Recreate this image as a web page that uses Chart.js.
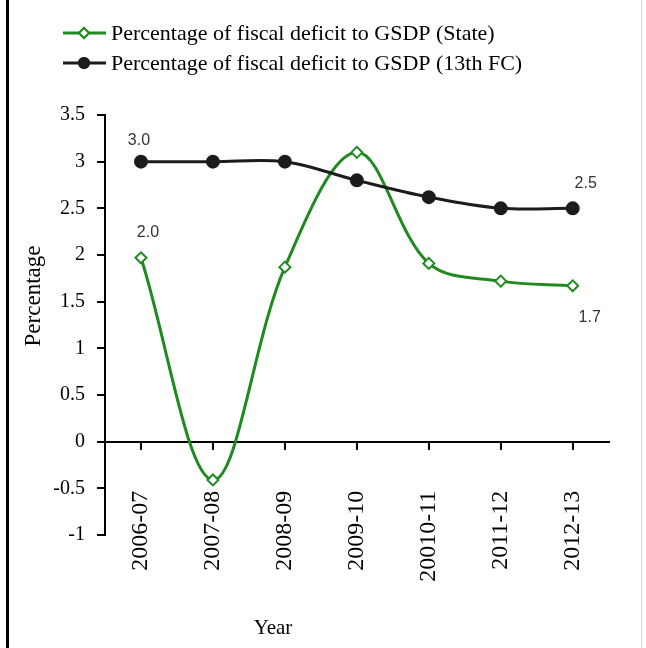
<!DOCTYPE html>
<html>
<head>
<meta charset="utf-8">
<script src="https://cdn.jsdelivr.net/npm/chart.js@4/dist/chart.umd.min.js"></script>
<style>
  body { margin: 0; background: #fff; }
  #wrap { position: relative; width: 646px; height: 648px; }
</style>
</head>
<body>
<div id="wrap"><canvas id="chart"></canvas></div>
<script>
const years = ['2006-07', '2007-08', '2008-09', '2009-10', '20010-11', '2011-12', '2012-13'];
const stateDeficit = [1.97, -0.41, 1.87, 3.1, 1.91, 1.72, 1.67];
const fcDeficit = [3.0, 3.0, 3.0, 2.8, 2.62, 2.5, 2.5];
const seriesNames = ['Percentage of fiscal deficit to GSDP (State)', 'Percentage of fiscal deficit to GSDP (13th FC)'];
const yTicks = { min: -1, max: 3.5, step: 0.5 };

const GREEN = '#1f8a1f';
const DARK = '#1c1c1c';
const SERIF = '"Liberation Serif", "Times New Roman", serif';

// which points carry a value label: [dataset, index, dx, dy]
const valueLabels = [
    [0, 0, 7, -25],
    [0, 6, 17, 32],
    [1, 0, -2, -21],
    [1, 6, 13, -25]
];

const extras = {
    id: 'extras',
    afterDraw(chart) {
        const ctx = chart.ctx;
        ctx.save();
        // frame line on the left
        ctx.fillStyle = '#000';
        ctx.fillRect(6, 0, 3, 648);
        ctx.fillStyle = '#d8d8d8';
        ctx.fillRect(641, 0, 1, 648);

        // legend
        const rows = [
            { y: 33, color: GREEN, fill: '#fff', style: 'rectRot' },
            { y: 63, color: DARK, fill: DARK, style: 'circle' }
        ];
        rows.forEach((r, i) => {
            ctx.strokeStyle = r.color;
            ctx.lineWidth = 3;
            ctx.beginPath();
            ctx.moveTo(63, r.y);
            ctx.lineTo(106, r.y);
            ctx.stroke();
            ctx.fillStyle = r.fill;
            ctx.lineWidth = 2;
            Chart.helpers.drawPoint(ctx, { pointStyle: r.style, radius: 5, borderWidth: 2 }, 84, r.y);
            ctx.fill();
            ctx.stroke();
            ctx.fillStyle = '#000';
            ctx.font = '22px ' + SERIF;
            ctx.textAlign = 'left';
            ctx.textBaseline = 'middle';
            ctx.fillText(seriesNames[i], 111, r.y + 1);
        });

        // value labels
        ctx.font = '16px "Liberation Sans", Arial, sans-serif';
        ctx.fillStyle = '#333';
        ctx.textAlign = 'center';
        ctx.textBaseline = 'middle';
        valueLabels.forEach(([d, j, dx, dy]) => {
            const pt = chart.getDatasetMeta(d).data[j];
            const v = chart.data.datasets[d].data[j];
            ctx.fillText(v.toFixed(1), pt.x + dx, pt.y + dy);
        });

        // axis titles
        ctx.fillStyle = '#000';
        ctx.font = '21px ' + SERIF;
        ctx.fillText('Year', 273, 628);
        ctx.translate(34, 296);
        ctx.rotate(-Math.PI / 2);
        ctx.font = '23px ' + SERIF;
        ctx.fillText('Percentage', 0, 0);
        ctx.restore();
    }
};

new Chart(document.getElementById('chart'), {
    type: 'line',
    data: {
        labels: years,
        datasets: [{
            label: seriesNames[0],
            data: stateDeficit,
            borderColor: GREEN,
            borderWidth: 3,
            pointStyle: 'rectRot',
            pointRadius: 5.5,
            pointBorderWidth: 2,
            pointBackgroundColor: '#fff',
            pointBorderColor: GREEN,
            tension: 0.35,
            clip: false,
            order: 2
        }, {
            label: seriesNames[1],
            data: fcDeficit,
            borderColor: DARK,
            borderWidth: 3,
            pointStyle: 'circle',
            pointRadius: 5.5,
            pointBackgroundColor: DARK,
            pointBorderColor: DARK,
            tension: 0.35,
            clip: false,
            order: 1
        }]
    },
    options: {
        responsive: true,
        maintainAspectRatio: false,
        animation: false,
        layout: { padding: { top: 115, bottom: 113, left: 0, right: 35 } },
        plugins: { legend: { display: false }, tooltip: { enabled: false } },
        scales: {
            x: {
                position: { y: 0 },
                offset: true,
                grid: { drawOnChartArea: false, drawTicks: true, tickLength: 7, offset: false, color: '#000', lineWidth: 2 },
                border: { display: true, color: '#000', width: 2 },
                ticks: {
                    minRotation: 90, maxRotation: 90, autoSkip: false,
                    padding: 42,
                    color: '#000',
                    font: { family: SERIF, size: 24 }
                }
            },
            y: {
                min: yTicks.min,
                max: yTicks.max,
                afterFit(scale) { scale.width = 105; },
                grid: { drawOnChartArea: false, drawTicks: true, tickLength: 8, color: '#000', lineWidth: 2 },
                border: { display: true, color: '#000', width: 2 },
                ticks: {
                    stepSize: yTicks.step,
                    padding: 12,
                    color: '#000',
                    font: { family: SERIF, size: 20 },
                    callback: (v) => String(v)
                }
            }
        }
    },
    plugins: [extras]
});
</script>
</body>
</html>
